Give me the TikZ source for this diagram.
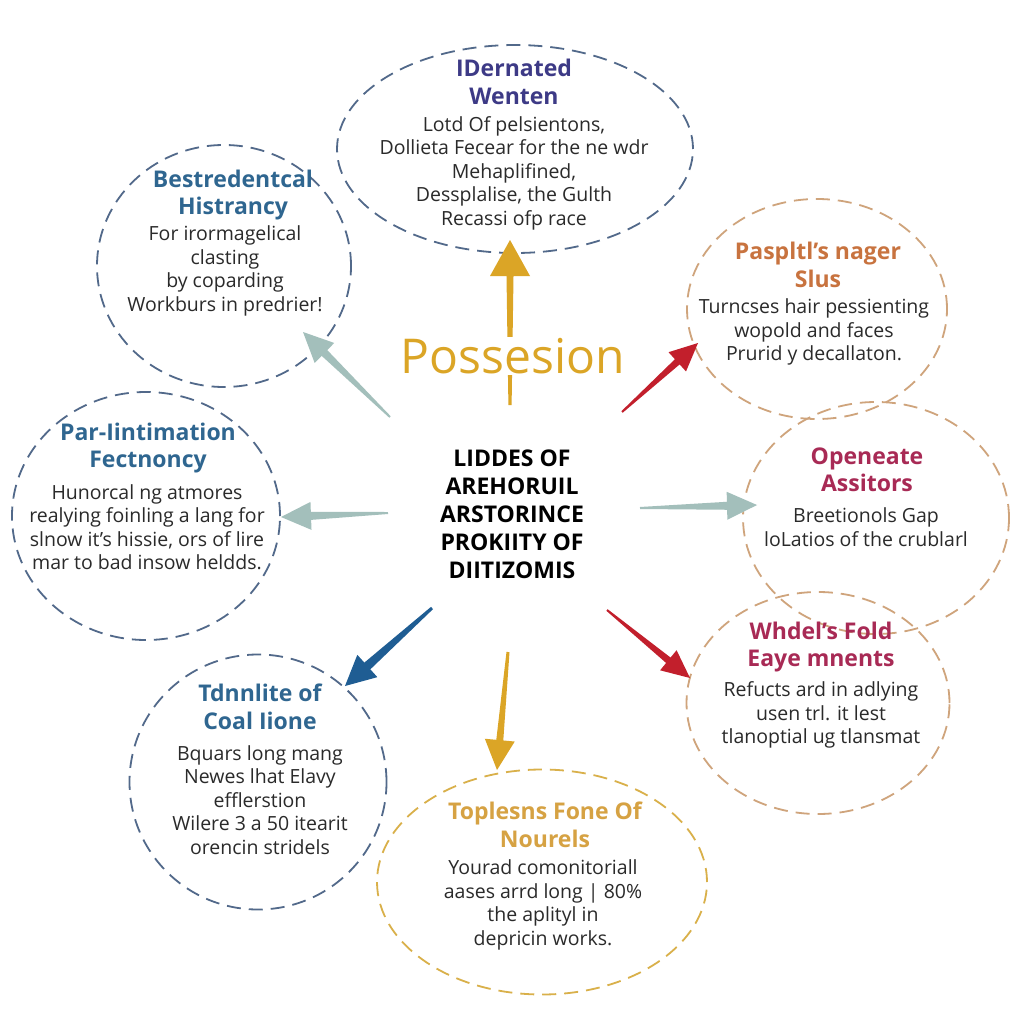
\documentclass[tikz,border=0pt]{standalone}
\usepackage{fontspec}
\setmainfont{Open Sans}
\usetikzlibrary{shapes.geometric,calc}
\definecolor{txt}{HTML}{2A2A2A}
\definecolor{bdBlue}{HTML}{52698A}
\definecolor{bdGold}{HTML}{D9B04A}
\definecolor{bdTan}{HTML}{CFA47C}
\definecolor{tPurple}{HTML}{3D3A86}
\definecolor{tBlue}{HTML}{2F6690}
\definecolor{tOrange}{HTML}{C8733F}
\definecolor{tCrimson}{HTML}{A82A55}
\definecolor{tGold}{HTML}{D6A243}
\definecolor{aGold}{HTML}{DBA526}
\definecolor{aSage}{HTML}{A3BFBB}
\definecolor{aRed}{HTML}{C21F2C}
\definecolor{aBlue}{HTML}{1F5D93}
\newcommand\taparrow[8]{%
  \coordinate (#4h) at ($(#2)!#5!(#1)$);
  \fill[#3] ($(#1)!#8!90:(#2)$) -- ($(#4h)!#7!90:(#2)$) -- ($(#4h)!#6!90:(#2)$)
    -- (#2) -- ($(#4h)!#6!-90:(#2)$) -- ($(#4h)!#7!-90:(#2)$) -- ($(#1)!#8!-90:(#2)$) -- cycle;}
\tikzset{
  circ/.style={ellipse, draw=#1, dash pattern=on 14pt off 8pt, line width=1.8pt, inner sep=0pt},
  ttl/.style={text=#1, align=center, font=\fontsize{23}{27.5}\selectfont\bfseries},
  body/.style={text=txt, align=center, font=\fontsize{19.5}{23.5}\selectfont},
}
\begin{document}
\begin{tikzpicture}[x=1pt,y=-1pt]
\fill[white] (0,0) rectangle (1024,1024);
\useasboundingbox (0,0) rectangle (1024,1024);
% circles
\node[circ=bdBlue, minimum width=356pt, minimum height=208pt] (ctop) at (515,149) {};
\node[circ=bdBlue, minimum width=254pt, minimum height=242pt] (ctl) at (224,266) {};
\node[circ=bdBlue, minimum width=268pt, minimum height=248pt] (cl) at (146,516) {};
\node[circ=bdBlue, minimum width=257pt, minimum height=255pt] (cbl) at (258,782) {};
\node[circ=bdGold, minimum width=330pt, minimum height=225pt] (cb) at (542,882) {};
\node[circ=bdTan, minimum width=263pt, minimum height=222pt] (cbr) at (818,703) {};
\node[circ=bdTan, minimum width=266pt, minimum height=232pt] (cr) at (876,518) {};
\node[circ=bdTan, minimum width=260pt, minimum height=220pt] (ctr) at (817,309) {};
% arrows
\coordinate (s1) at (510,405); \coordinate (e1) at (510,240);
\coordinate (s2) at (390,417); \coordinate (e2) at (303,332);
\coordinate (s3) at (388,513); \coordinate (e3) at (281,517);
\coordinate (s4) at (640,508); \coordinate (e4) at (757,505);
\coordinate (s5) at (622,412); \coordinate (e5) at (698,343);
\coordinate (s6) at (607,610); \coordinate (e6) at (690,678);
\coordinate (s7) at (432,608); \coordinate (e7) at (345,686);
\coordinate (s8) at (508,652); \coordinate (e8) at (497,770);
\taparrow{s1}{e1}{aGold}{a1}{36pt}{20pt}{3.5pt}{1.6pt}
\taparrow{s2}{e2}{aSage}{a2}{30pt}{14pt}{4pt}{1pt}
\taparrow{s3}{e3}{aSage}{a3}{30pt}{14pt}{4pt}{1pt}
\taparrow{s4}{e4}{aSage}{a4}{30pt}{14pt}{4pt}{1pt}
\taparrow{s5}{e5}{aRed}{a5}{28pt}{13pt}{3.5pt}{1pt}
\taparrow{s6}{e6}{aRed}{a6}{28pt}{13pt}{3.5pt}{1pt}
\taparrow{s7}{e7}{aBlue}{a7}{30pt}{15pt}{4.5pt}{1.5pt}
\taparrow{s8}{e8}{aGold}{a8}{30pt}{15pt}{3.5pt}{1.5pt}
% big word
\node[fill=white, inner sep=1pt, text=aGold, font=\fontsize{48}{52}\selectfont] (poss) at (513,356) {Possesion};
% center text
\node[align=center, text=black, font=\fontsize{23}{28}\selectfont\bfseries] (center) at (512,514)
  {LIDDES OF\\AREHORUIL\\ARSTORINCE\\PROKIITY OF\\DIITIZOMIS};
% top
\node[ttl=tPurple] (ttop) at (514,82) {IDernated\\Wenten};
\node[body] (btop) at (514,173) {Lotd Of pelsientons,\\Dollieta Fecear for the ne wdr\\Mehapliﬁned,\\Dessplalise, the Gulth\\Recassi ofp race};
% top-left
\node[ttl=tBlue] (ttl) at (233,195) {Bestredentcal\\Histrancy};
\node[body] (btl) at (225,271) {For irormagelical\\clasting\\by coparding\\Workburs in predrier!};
% top-right
\node[ttl=tOrange] (ttr) at (818,265) {Paspltl's nager\\Slus};
\node[body] (btr) at (814,332) {Turncses hair pessienting\\wopold and faces\\Prurid y decallaton.};
% left
\node[ttl=tBlue] (tl) at (148,448) {Par-Iintimation\\Fectnoncy};
\node[body] (bl) at (147,527) {Hunorcal ng atmores\\realying foinling a lang for\\slnow it's hissie, ors of lire\\mar to bad insow heldds.};
% right
\node[ttl=tCrimson] (tr) at (867,470) {Openeate\\Assitors};
\node[body] (br) at (866,527) {Breetionols Gap\\loLatios of the crublarl};
% bottom-right
\node[ttl=tCrimson] (tbr) at (821,647) {Whdel's Fold\\Eaye mnents};
\node[body] (bbr) at (821,715) {Refucts ard in adlying\\usen trl. it lest\\tlanoptial ug tlansmat};
% bottom-left
\node[ttl=tBlue] (tbl) at (260,707) {Tdnnlite of\\Coal Iione};
\node[body] (bbl) at (260,800) {Bquars long mang\\Newes lhat Elavy\\efflerstion\\Wilere 3 a 50 itearit\\orencin stridels};
% bottom
\node[ttl=tGold] (tb) at (545,825) {Toplesns Fone Of\\Nourels};
\node[body] (bb) at (543,905) {Yourad comonitoriall\\aases arrd long | 80\%\\the aplityl in\\depricin works.};
\end{tikzpicture}
\end{document}
